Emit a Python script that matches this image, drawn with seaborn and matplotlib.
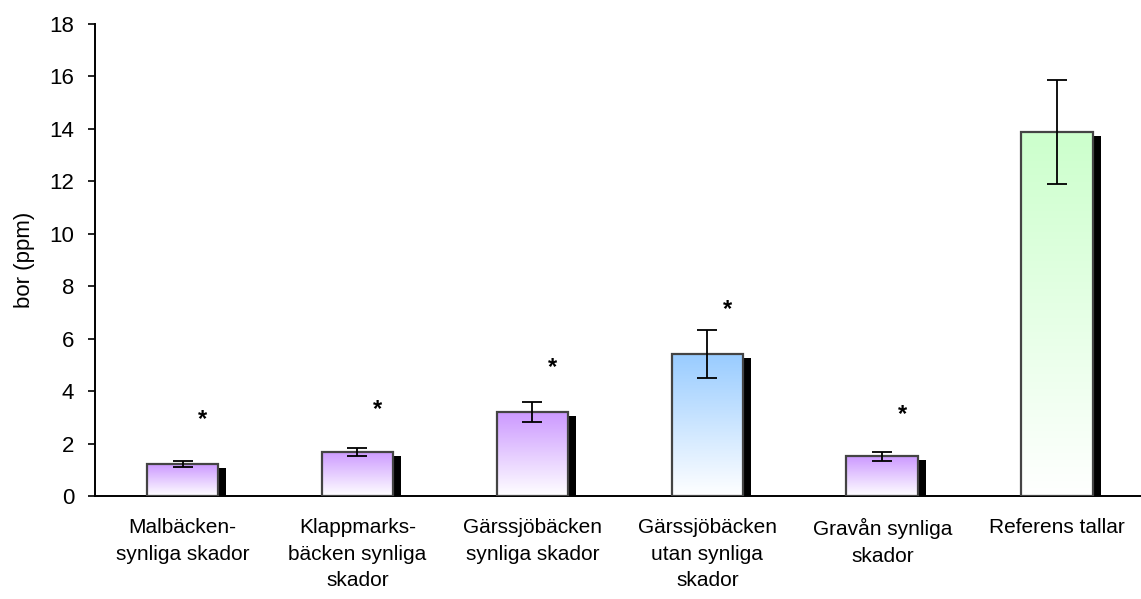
import numpy as np
import pandas as pd
import matplotlib
matplotlib.use("Agg")
import matplotlib.pyplot as plt
import seaborn as sns
from matplotlib.colors import LinearSegmentedColormap
from matplotlib.patches import Rectangle

sites = ["Malbäcken-\nsynliga skador", "Klappmarks-\nbäcken synliga\nskador",
         "Gärssjöbäcken\nsynliga skador", "Gärssjöbäcken\nutan synliga\nskador",
         "Gravån synliga\nskador", "Referens tallar"]
bor = [1.22, 1.68, 3.2, 5.4, 1.52, 13.88]
err = [0.13, 0.16, 0.38, 0.92, 0.17, 1.98]
star_y = [2.9, 3.3, 4.9, 7.1, 3.1, None]
top_colors = ["#cc99ff", "#cc99ff", "#cc99ff", "#99ccff", "#cc99ff", "#ccffcc"]

sns.set_style("white")
plt.rcParams["font.family"] = ["Liberation Sans", "DejaVu Sans"]
for key in ["text.color", "axes.labelcolor", "xtick.color", "ytick.color"]:
    plt.rcParams[key] = "black"

df = pd.DataFrame({"site": sites, "bor": bor})

fig = plt.figure(figsize=(11.41, 5.99), dpi=100)
ax = fig.add_axes([0.0833, 0.172, 0.920, 0.788])

sns.barplot(data=df, x="site", y="bor", ax=ax, width=0.41, color="white",
            edgecolor="#444444", linewidth=1.6, errorbar=None, zorder=3)
bars = list(ax.patches)

# drop shadows + gradient fills
px_x = 8 / 175.0
px_y = 4 / 26.2
for patch, col in zip(bars, top_colors):
    x0, w, h = patch.get_x(), patch.get_width(), patch.get_height()
    ax.add_patch(Rectangle((x0 + px_x, 0), w, h - px_y,
                           facecolor="black", edgecolor="none", zorder=2))
    cmap = LinearSegmentedColormap.from_list("g", ["white", col])
    grad = np.linspace(0, 1, 256).reshape(-1, 1)
    im = ax.imshow(grad, cmap=cmap, aspect="auto", origin="lower",
                   extent=(x0, x0 + w, 0, h), zorder=3.5)
    im.set_clip_path(patch)
    patch.set_zorder(4)
    patch.set_facecolor("none")

centers = [p.get_x() + p.get_width() / 2 for p in bars]
ax.errorbar(centers, bor, yerr=err, fmt="none", ecolor="black",
            elinewidth=1.3, capsize=7, capthick=1.3, zorder=5)

for xc, sy in zip(centers, star_y):
    if sy is not None:
        ax.text(xc + 0.115, sy, "*", ha="center", va="center", fontsize=17,
                fontweight="bold", zorder=6)

ax.set_xlim(-0.5, 5.5)
ax.set_ylim(0, 18)
ax.set_yticks(range(0, 19, 2))
ax.set_xlabel("")
ax.set_ylabel("bor (ppm)", fontsize=16, labelpad=10)
ax.tick_params(axis="y", direction="out", length=5, width=1.2, labelsize=16,
               left=True, pad=10, colors="black")
ax.tick_params(axis="x", length=0, labelsize=15, pad=16, colors="black")
for lab in ax.get_xticklabels():
    lab.set_linespacing(1.5)
sns.despine(ax=ax)
for s in ["left", "bottom"]:
    ax.spines[s].set_linewidth(1.4)
    ax.spines[s].set_color("black")

fig.savefig("out.png", dpi=100)
